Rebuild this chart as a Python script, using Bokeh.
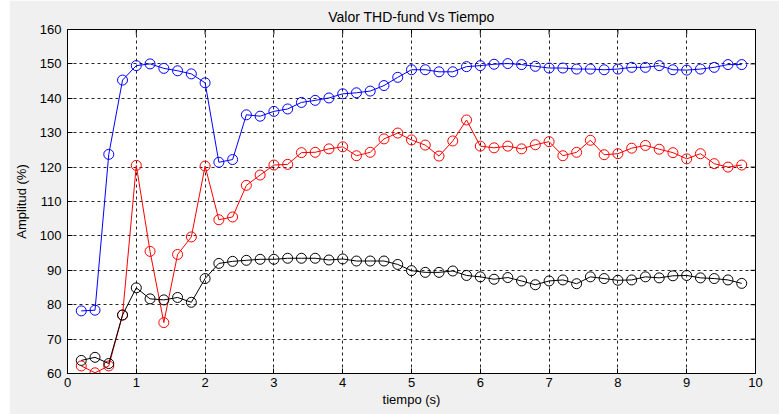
import math
from bokeh.plotting import figure
from bokeh.models import LinearAxis, Range1d, FixedTicker, Spacer
from bokeh.layouts import row
from bokeh.embed import file_html
from bokeh.resources import INLINE

tiempo = [round(0.2 * i, 1) for i in range(1, 50)]

blue = [78.2, 78.4, 123.7, 145.3, 149.5, 150.0, 148.7, 148.0, 147.1, 144.5,
        121.4, 122.2, 135.2, 134.8, 136.2, 136.9, 138.8, 139.4, 140.1, 141.3,
        141.6, 142.1, 143.7, 146.1, 148.3, 148.3, 147.7, 147.7, 149.2, 149.5,
        149.9, 150.1, 149.8, 149.3, 148.8, 148.8, 148.5, 148.5, 148.3, 148.5,
        149.0, 149.0, 149.5, 148.3, 148.2, 148.5, 149.0, 149.8, 149.8]

red = [62.2, 60.2, 62.2, 77.0, 120.5, 95.5, 74.8, 94.6, 99.7, 120.3,
       104.7, 105.5, 114.7, 117.7, 120.6, 120.8, 124.2, 124.3, 125.3, 125.9,
       123.3, 124.3, 128.2, 129.9, 127.9, 126.4, 123.2, 127.6, 133.7, 126.1,
       125.6, 126.1, 125.3, 126.5, 127.4, 123.3, 124.3, 127.8, 123.6, 123.9,
       125.5, 126.3, 125.2, 124.2, 122.4, 123.9, 121.0, 120.0, 120.6]

black = [63.8, 64.7, 62.9, 77.0, 84.9, 81.7, 81.4, 82.1, 80.7, 87.6,
         92.0, 92.6, 92.9, 93.2, 93.2, 93.5, 93.5, 93.5, 93.0, 93.3,
         92.7, 92.7, 92.7, 91.7, 89.9, 89.4, 89.4, 89.8, 88.5, 88.1,
         87.4, 87.9, 86.9, 85.8, 86.9, 87.2, 86.1, 88.1, 87.6, 87.1,
         87.2, 88.1, 87.8, 88.4, 88.5, 87.8, 87.6, 87.2, 86.2]

x_ticks = [0, 1, 2, 3, 4, 5, 6, 7, 8, 9, 10]
y_ticks = [60, 70, 80, 90, 100, 110, 120, 130, 140, 150, 160]

title_text = "Valor THD-fund Vs Tiempo"
xlabel = "tiempo (s)"
ylabel = "Amplitud (%)"

FONT = "Liberation Sans Narrow, Liberation Sans, Arial"

p = figure(width=770, height=414, output_backend="svg", toolbar_location=None,
           x_range=Range1d(0, 10), y_range=Range1d(60, 160),
           min_border_left=58, min_border_right=24, min_border_top=29,
           min_border_bottom=41, x_axis_location=None, y_axis_location=None,
           title=title_text)
p.background_fill_color = "white"
p.border_fill_color = "#f0f0f0"
p.outline_line_color = "black"
p.outline_line_width = 1

p.title.align = "center"
p.title.text_font = FONT
p.title.text_font_size = "14px"
p.title.text_font_style = "normal"
p.title.text_color = "black"
p.title.standoff = 10

def style_axis(ax, ticks):
    ax.ticker = FixedTicker(ticks=ticks)
    ax.major_tick_in = 5
    ax.major_tick_out = 0
    ax.minor_tick_in = 0
    ax.minor_tick_out = 0
    ax.axis_line_color = "black"
    ax.major_tick_line_color = "black"
    ax.major_label_text_font = FONT
    ax.major_label_text_font_size = "13px"
    ax.major_label_text_color = "black"
    ax.axis_label_text_font = FONT
    ax.axis_label_text_font_size = "13px"
    ax.axis_label_text_font_style = "normal"
    ax.axis_label_text_color = "black"

xb = LinearAxis(axis_label=xlabel)
style_axis(xb, x_ticks)
xb.major_label_standoff = 4
xb.axis_label_standoff = 2
p.add_layout(xb, "below")

yl = LinearAxis(axis_label=ylabel)
style_axis(yl, y_ticks)
yl.major_label_standoff = 6
yl.axis_label_standoff = 8
p.add_layout(yl, "left")

# inward ticks on the top and right edges (glyphs clipped to the frame)
p.scatter(x_ticks, [y_ticks[-1]] * len(x_ticks), marker="dash", angle=math.pi / 2,
          size=10, line_color="black", line_width=1)
p.scatter([x_ticks[-1]] * len(y_ticks), y_ticks, marker="dash",
          size=10, line_color="black", line_width=1)

p.xgrid.ticker = FixedTicker(ticks=x_ticks)
p.ygrid.ticker = FixedTicker(ticks=y_ticks)
for g in (p.xgrid, p.ygrid):
    g.grid_line_color = "black"
    g.grid_line_dash = "3 3"
    g.grid_line_width = 1
    g.grid_line_alpha = 0.85

for ys, col in ((blue, "#0000ff"), (red, "#ff0000"), (black, "#000000")):
    p.line(tiempo, ys, line_color=col, line_width=1)
    p.scatter(tiempo, ys, marker="circle", size=10, fill_color=None,
              line_color=col, line_width=1)

layout = row(Spacer(width=9, height=414), p)

open("out.html", "w").write(file_html(layout, INLINE))
